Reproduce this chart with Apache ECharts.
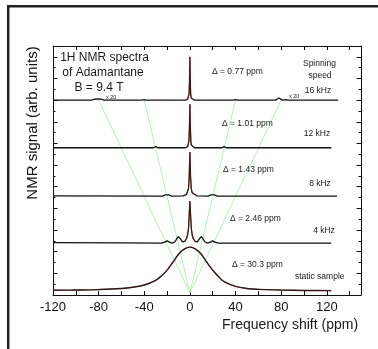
<!DOCTYPE html>
<html><head><meta charset="utf-8">
<script src="https://cdn.jsdelivr.net/npm/echarts@6/dist/echarts.min.js"></script>
<style>html,body{margin:0;padding:0;background:#fff}#c{width:378px;height:349px}</style>
</head><body><div id="c"></div>
<script>
// tick labels shown on the frequency axis
const xTickLabels = [-120, -80, -40, 0, 40, 80, 120];

// spectra: [frequency shift (ppm), signal (arb. units, stacked)]
const spec16kHz = [[-120,9.0],[-86,9.0],[-84,9.04],[-82.5,9.1],[-81,9.06],[-79.5,9.01],[-78,9.05],[-76.5,9.02],[-75,9.0],
  [-42,9.0],[-40,9.02],[-38,9.0],[-4,9.0],[-2,9.04],[-1.2,9.1],[-0.7,9.28],[-0.35,9.85],[0,11.0],[0.35,9.85],[0.7,9.28],
  [1.2,9.1],[2,9.04],[4,9.0],[38,9.0],[40,9.02],[42,9.0],[75,9.0],[76.5,9.04],[78,9.1],[79.5,9.05],[81,9.0],[82.5,9.04],
  [84,9.02],[86,9.0],[130,9.0]];
const spec12kHz = [[-120,6.8],[-32,6.8],[-30,6.85],[-28,6.8],[-4,6.8],[-2,6.85],[-1.3,6.93],[-0.8,7.12],[-0.4,7.75],[0,8.81],
  [0.4,7.75],[0.8,7.12],[1.3,6.93],[2,6.85],[4,6.8],[28,6.8],[30,6.85],[32,6.8],[124,6.8]];
const spec8kHz = [[-120,4.58],[-24,4.57],[-21.5,4.62],[-20,4.68],[-18.5,4.62],[-16,4.57],[-6,4.58],[-3,4.64],[-2,4.72],[-1.2,4.92],
  [-0.6,5.45],[0,6.6],[0.6,5.45],[1.2,4.92],[2,4.72],[3,4.64],[6,4.58],[16,4.57],[18.5,4.62],[20,4.68],[21.5,4.62],[24,4.57],[129,4.57]];
const spec4kHz = [[-120,2.42],[-60,2.41],[-25,2.40],[-22,2.44],[-20,2.5],[-18,2.44],[-15.5,2.4],[-13,2.46],[-11.5,2.6],[-10,2.7],
  [-8.5,2.6],[-6.5,2.45],[-4.5,2.48],[-3,2.6],[-2,2.78],[-1.2,3.1],[-0.6,3.7],[0,4.34],[0.6,3.7],[1.2,3.1],[2,2.78],[3,2.6],
  [4.5,2.48],[6.5,2.45],[8.5,2.6],[10,2.7],[11.5,2.6],[13,2.46],[15.5,2.4],[18,2.44],[20,2.5],[22,2.44],[25,2.4],[124,2.40]];
const specStatic = [[-120,0.22],[-100,0.23],[-80,0.25],[-60,0.3],[-50,0.36],[-40,0.46],[-30,0.68],[-25,0.88],[-20,1.15],[-15,1.5],
  [-10,1.88],[-5,2.12],[0,2.21],[5,2.12],[10,1.88],[15,1.5],[20,1.15],[25,0.85],[30,0.62],[40,0.4],[50,0.3],[60,0.26],[80,0.23],
  [100,0.21],[124,0.2]];

// guide lines through spinning sidebands
const guideOuter = [[-80,9.0],[0,0.1],[80,9.0]];
const guideInner = [[-40,9.0],[0,0.1],[40,9.0]];

const FONT = '"Liberation Sans", Arial, sans-serif';
const chart = echarts.init(document.getElementById('c'), null, {renderer:'canvas'});

function line(data, color, width, z, smooth) {
  return {type:'line', data:data, showSymbol:false, symbol:'none', smooth:smooth||false, z:z,
    lineStyle:{color:color, width:width}, animation:false, silent:true};
}
const fitOf = d => d.filter(p => Math.abs(p[0]) <= 5);

function txt(text, x, y, size, align) {
  return {type:'text', x:x, y:y, z:100, style:{text:text, font: size + 'px ' + FONT, fill:'#1a1a1a',
    textAlign:align||'center', align:align||'center', textVerticalAlign:'middle', verticalAlign:'middle'}};
}

const axisCommonX = {type:'value', min:-120, max:150, interval:20,
  axisLine:{show:true, onZero:false, lineStyle:{color:'#111', width:1}},
  axisTick:{show:true, inside:true, length:4, lineStyle:{color:'#111'}},
  splitLine:{show:false}};
const axisCommonY = {type:'value', min:0, max:11.5, interval:1,
  axisLine:{show:true, onZero:false, lineStyle:{color:'#111', width:1}},
  axisTick:{show:true, inside:true, length:4.5, lineStyle:{color:'#111'}},
  minorTick:{show:true, splitNumber:2, length:2.5, lineStyle:{color:'#111'}},
  axisLabel:{show:false}, splitLine:{show:false}, minorSplitLine:{show:false}};

chart.setOption({
  animation:false,
  backgroundColor:'#fff',
  grid:{left:53, right:17, top:46, bottom:54, containLabel:false},
  xAxis:[
    Object.assign({}, axisCommonX, {position:'bottom',
      axisLabel:{show:true, margin:6, color:'#111', fontSize:13, fontFamily:FONT,
        formatter:v => xTickLabels.indexOf(v) >= 0 ? String(v) : ''}}),
    Object.assign({}, axisCommonX, {position:'top', axisLabel:{show:false}})
  ],
  yAxis:[
    Object.assign({}, axisCommonY, {position:'left'}),
    Object.assign({}, axisCommonY, {position:'right'})
  ],
  series:[
    line(guideOuter, '#9be89b', 0.7, 1),
    line(guideInner, '#9be89b', 0.7, 1),
    line(specStatic, '#111', 1.4, 2, 0.4),
    line(spec4kHz, '#111', 1.3, 2),
    line(spec8kHz, '#111', 1.3, 2),
    line(spec12kHz, '#111', 1.3, 2),
    line(spec16kHz, '#111', 1.3, 2),
    line(specStatic, '#8a1a1a', 0.4, 3, 0.4),
    line(fitOf(spec4kHz), '#8a1a1a', 0.5, 3),
    line(fitOf(spec8kHz), '#8a1a1a', 0.5, 3),
    line(fitOf(spec12kHz), '#8a1a1a', 0.5, 3),
    line(fitOf(spec16kHz), '#8a1a1a', 0.5, 3)
  ],
  graphic:[
    {type:'rect', shape:{x:8.2, y:6.2, width:500, height:500}, style:{fill:'none', stroke:'#222', lineWidth:2.5}, z:100},
    {type:'text', x:33, y:123, rotation:Math.PI/2, z:100, style:{text:'NMR signal (arb. units)', font:'15px ' + FONT, fill:'#111',
      textAlign:'center', align:'center', textVerticalAlign:'middle', verticalAlign:'middle'}},
    txt('Frequency shift (ppm)', 290, 325, 14),
    txt('1H NMR spectra', 104.5, 58, 12),
    txt('of Adamantane', 103, 72.7, 12),
    txt('B = 9.4 T', 99, 88, 12),
    txt('Δ = 0.77 ppm', 212, 71.7, 8.5, 'left'),
    txt('Δ = 1.01 ppm', 222, 124, 8.5, 'left'),
    txt('Δ = 1.43 ppm', 223, 170, 8.5, 'left'),
    txt('Δ = 2.46 ppm', 230, 219, 8.5, 'left'),
    txt('Δ = 30.3 ppm', 232, 264.3, 8.5, 'left'),
    txt('Spinning', 319.5, 64, 8.5),
    txt('speed', 320, 75.7, 8.5),
    txt('16 kHz', 318, 90.7, 8.5),
    txt('12 kHz', 317, 134, 8.5),
    txt('8 kHz', 320, 184, 8.5),
    txt('4 kHz', 324, 230.7, 8.5),
    txt('static sample', 319.7, 276.7, 8.5),
    txt('x 20', 106, 97, 5.5, 'left'),
    txt('x 20', 289, 96, 5.5, 'left')
  ]
});
</script>
</body></html>
